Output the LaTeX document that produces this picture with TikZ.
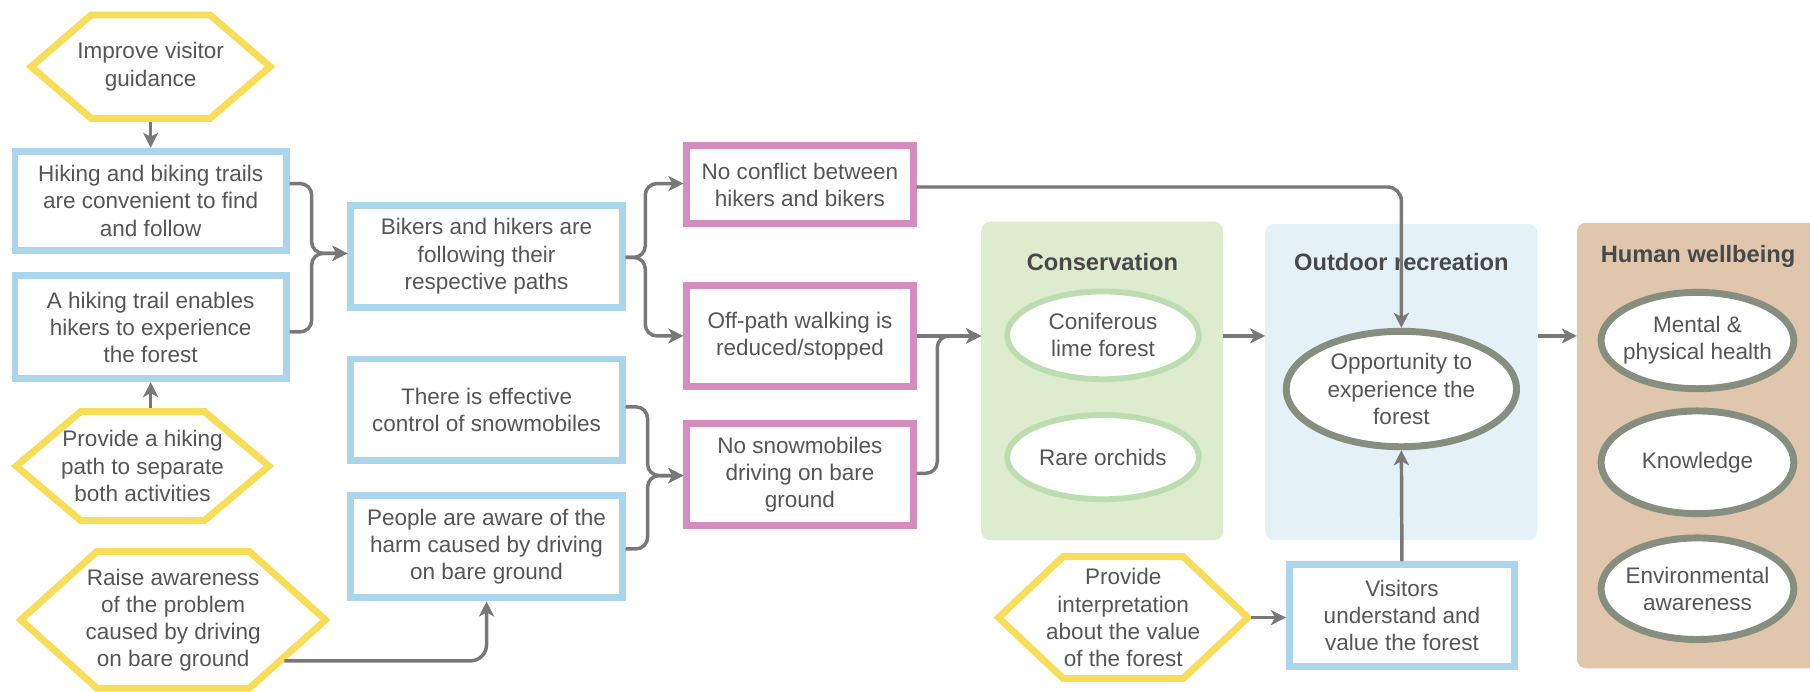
\documentclass[tikz,border=0pt]{standalone}
\usepackage{fontspec}
\setmainfont{Liberation Sans}
\usetikzlibrary{shapes.geometric,arrows.meta,calc}

\definecolor{inktext}{RGB}{85,85,85}
\definecolor{inktitle}{RGB}{72,72,72}
\definecolor{hexyellow}{RGB}{247,221,88}
\definecolor{boxblue}{RGB}{170,213,236}
\definecolor{boxpink}{RGB}{213,140,190}
\definecolor{consfill}{RGB}{221,235,207}
\definecolor{consring}{RGB}{188,221,176}
\definecolor{recfill}{RGB}{228,242,248}
\definecolor{wellfill}{RGB}{223,198,173}
\definecolor{wellring}{RGB}{134,142,128}
\definecolor{linkgray}{RGB}{122,119,120}

% flat-topped hexagon around a (borderless) rectangular node
\newcommand{\hexframe}[2]{%
  \draw[hexline] (#1.west) -- ([xshift=#2]#1.north west) -- ([xshift=-#2]#1.north east)
    -- (#1.east) -- ([xshift=-#2]#1.south east) -- ([xshift=#2]#1.south west) -- cycle;}

\begin{document}
\begin{tikzpicture}[x=1pt,y=-1pt,
  every node/.style={font=\fontsize{19.5}{23.5}\selectfont, text=inktext, align=center},
  bluebox/.style={draw=boxblue, line width=6pt, fill=white, minimum width=235pt, inner sep=0pt},
  pinkbox/.style={draw=boxpink, line width=6pt, fill=white, minimum width=196pt, inner sep=0pt},
  hexnode/.style={inner sep=0pt, outer sep=0pt},
  hexline/.style={draw=hexyellow, line width=6pt, line join=miter},
  panel/.style={rounded corners=8pt, inner sep=0pt, outer sep=0pt},
  paneltitle/.style={font=\fontsize{20.5}{24}\selectfont\bfseries, text=inktitle},
  greenoval/.style={ellipse, draw=consring, line width=5pt, fill=white, inner sep=0pt, minimum width=166pt},
  grayoval/.style={ellipse, draw=wellring, line width=6pt, fill=white, inner sep=0pt},
  link/.style={draw=linkgray, line width=3pt, -{Stealth[length=13pt,width=13pt,inset=3.5pt]}},
]
\useasboundingbox (0,0) rectangle (1568,599);
\clip (0,0) rectangle (1568,599);

% ---- outcome panels
\node[panel, fill=consfill, minimum width=209.5pt, minimum height=276pt] (cons) at (954.75,330) {};
\node[panel, fill=recfill, minimum width=236pt, minimum height=274pt] (rec) at (1214,331) {};
\node[panel, fill=wellfill, minimum width=214pt, minimum height=386pt] (well) at (1473,386) {};

\node[paneltitle] (tcons) at (955,227) {Conservation};
\node[paneltitle] (trec) at (1214,227) {Outdoor recreation};
\node[paneltitle] (twell) at (1471,222) {Human wellbeing};

% ---- ovals inside panels
\node[greenoval, minimum height=76pt] (g1) at (955.5,290.5) {};
\node (g1t) at (g1) {Coniferous\\lime forest};
\node[greenoval, minimum height=73pt] (g2) at (955.5,396) {};
\node (g2t) at (g2) {Rare orchids};

\node[grayoval, minimum width=199.5pt, minimum height=100pt] (O) at (1214,337) {};
\node (Ot) at (O) {Opportunity to\\experience the\\forest};

\node[grayoval, minimum width=167pt, minimum height=83.5pt] (M) at (1470.5,295) {};
\node (Mt) at (M) {Mental \&\\physical health};
\node[grayoval, minimum width=167pt, minimum height=89pt] (K) at (1470.5,400.5) {};
\node (Kt) at (K) {Knowledge};
\node[grayoval, minimum width=167pt, minimum height=88pt] (Env) at (1470.5,510) {};
\node (Envt) at (Env) {Environmental\\awareness};

% ---- actions (hexagons)
\node[hexnode, minimum width=207pt, minimum height=89.5pt] (h1) at (130.5,57.75) {Improve visitor\\guidance};
\hexframe{h1}{52pt}
\node[hexnode, minimum width=219pt, minimum height=94.5pt] (h2) at (123.5,403.75) {Provide a hiking\\path to separate\\both activities};
\hexframe{h2}{56pt}
\node[hexnode, minimum width=264pt, minimum height=118.5pt] (h3) at (150,537) {Raise awareness\\of the problem\\caused by driving\\on bare ground};
\hexframe{h3}{66pt}
\node[hexnode, minimum width=216pt, minimum height=105.5pt] (h4) at (973,535) {Provide\\interpretation\\about the value\\of the forest};
\hexframe{h4}{56pt}

% ---- intermediate states
\node[bluebox, minimum height=86pt] (A) at (130.5,174) {Hiking and biking trails\\are convenient to find\\and follow};
\node[bluebox, minimum height=89pt] (B) at (130.5,283.5) {A hiking trail enables\\hikers to experience\\the forest};
\node[bluebox, minimum height=88pt] (C) at (421.5,222) {Bikers and hikers are\\following their\\respective paths};
\node[bluebox, minimum height=88pt] (D) at (421.5,355) {There is effective\\control of snowmobiles};
\node[bluebox, minimum height=89pt] (E) at (421.5,473.5) {People are aware of the\\harm caused by driving\\on bare ground};
\node[bluebox, minimum width=195pt, minimum height=88pt] (F) at (1214.5,533) {Visitors\\understand and\\value the forest};

\node[pinkbox, minimum height=68pt] (P1) at (693,160) {No conflict between\\hikers and bikers};
\node[pinkbox, minimum height=88pt] (P2) at (693,291) {Off-path walking is\\reduced/stopped};
\node[pinkbox, minimum height=88pt] (P3) at (693,411) {No snowmobiles\\driving on bare\\ground};

% ---- connectors
\draw[link] ([yshift=-3pt]h1.south) -- (A.north);
\draw[link] ([yshift=3pt]B.south |- h2.north) -- (B.south);

\draw[link, rounded corners=10pt] ([yshift=15pt]A.east) -- ++(19,0) |- ([yshift=2.5pt]C.west);
\draw[link, rounded corners=10pt] ([yshift=-4pt]B.east) -- ++(19,0) |- ([yshift=2.5pt]C.west);

\draw[link, rounded corners=10pt] ([yshift=-1pt]C.east) -- ++(17,0) |- ([yshift=1pt]P1.west);
\draw[link, rounded corners=10pt] ([yshift=-1pt]C.east) -- ++(17,0) |- (P2.west);

\draw[link, rounded corners=10pt] ([yshift=2.5pt]D.east) -- ++(19,0) |- ([yshift=-1pt]P3.west);
\draw[link, rounded corners=10pt] ([yshift=-2pt]E.east) -- ++(19,0) |- ([yshift=-1pt]P3.west);

\coordinate (h3out) at ($(h3.east)!0.6!([xshift=-66pt]h3.south east)+(4,0)$);
\draw[link, rounded corners=14pt] (h3out) -| (E.south);

\draw[link] (P2.east) -- (P2.east -| cons.west);
\draw[link, rounded corners=10pt] ([yshift=1pt]P3.east) -- ++(18,0) |- (P2.east -| cons.west);

\draw[link, rounded corners=12pt] ([yshift=-2pt]P1.east) -| (O.north);

\coordinate (band) at (0,291);
\draw[link] (cons.east |- band) -- (rec.west |- band);
\draw[link] (rec.east |- band) -- (well.west |- band);

\draw[link] ([xshift=3pt]h4.east) -- (h4.east -| F.west);
\draw[link] (F.north) -- (O.south);

\end{tikzpicture}
\end{document}
